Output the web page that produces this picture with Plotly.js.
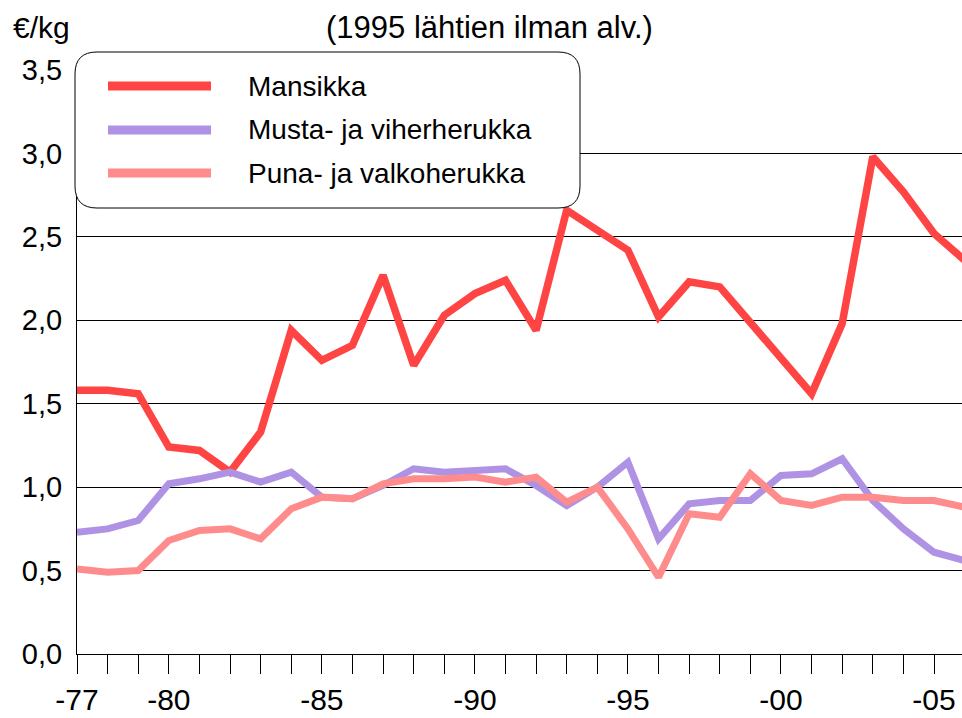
<!DOCTYPE html>
<html>
<head>
<meta charset="utf-8">
<script src="https://cdn.plot.ly/plotly-3.0.1.min.js"></script>
<style>
  html, body { margin: 0; padding: 0; background: #fff; }
  #chart { width: 962px; height: 718px; }
</style>
</head>
<body>
<div id="chart"></div>
<script>
// ---- data ----
const years = [1977,1978,1979,1980,1981,1982,1983,1984,1985,1986,1987,1988,1989,1990,1991,1992,1993,1994,1995,1996,1997,1998,1999,2000,2001,2002,2003,2004,2005,2006];
const mansikka = [1.58,1.58,1.56,1.24,1.22,1.09,1.33,1.94,1.76,1.85,2.27,1.73,2.03,2.16,2.24,1.94,2.66,2.54,2.42,2.02,2.23,2.20,1.99,1.78,1.56,1.98,2.98,2.77,2.52,2.36];
const mustaHerukka = [0.73,0.75,0.80,1.02,1.05,1.09,1.03,1.09,0.94,0.93,1.01,1.11,1.09,1.10,1.11,1.01,0.89,1.00,1.15,0.69,0.90,0.92,0.92,1.07,1.08,1.17,0.92,0.75,0.61,0.56];
const punaHerukka = [0.51,0.49,0.50,0.68,0.74,0.75,0.69,0.87,0.94,0.93,1.02,1.05,1.05,1.06,1.03,1.06,0.91,1.00,0.75,0.46,0.84,0.82,1.08,0.92,0.89,0.94,0.94,0.92,0.92,0.88];
const seriesNames = ["Mansikka", "Musta- ja viherherukka", "Puna- ja valkoherukka"];
const xTickLabels = {1977: "-77", 1980: "-80", 1985: "-85", 1990: "-90", 1995: "-95", 2000: "-00", 2005: "-05"};
const yTickVals = [0, 0.5, 1, 1.5, 2, 2.5, 3, 3.5];
const titleText = "(1995 lähtien ilman alv.)";
const unitText = "€/kg";

// ---- styling ----
const colors = ["#ff4444", "#b092e4", "#ff8c8c"];
const FONT = "Liberation Sans, Arial, sans-serif";
const W = 962, H = 718;
const L = 77, R = 0, T = 70, B = 64;
const PW = W - L - R, PH = H - T - B;
const px = x => (x - L) / PW;
const py = y => (H - B - y) / PH;

const seriesData = [mansikka, mustaHerukka, punaHerukka];
const traces = seriesData.map((vals, i) => ({
  type: "scatter",
  mode: "lines",
  x: years,
  y: vals,
  name: seriesNames[i],
  line: { color: colors[i], width: i === 0 ? 7.5 : 7 },
  showlegend: false,
  hoverinfo: "skip"
}));

// legend box (rounded) drawn manually
const bx0 = px(75), bx1 = px(580), by0 = py(52), by1 = py(208);
const rx = 22 / PW, ry = 22 / PH;
const boxPath = `M ${bx0 + rx},${by0} L ${bx1 - rx},${by0} Q ${bx1},${by0} ${bx1},${by0 - ry} ` +
  `L ${bx1},${by1 + ry} Q ${bx1},${by1} ${bx1 - rx},${by1} ` +
  `L ${bx0 + rx},${by1} Q ${bx0},${by1} ${bx0},${by1 + ry} ` +
  `L ${bx0},${by0 - ry} Q ${bx0},${by0} ${bx0 + rx},${by0} Z`;

const shapes = [{
  type: "path", xref: "paper", yref: "paper", path: boxPath,
  fillcolor: "#ffffff", line: { color: "#000000", width: 1 }, layer: "above"
}];
const legendY = [86, 130, 173];
const annotations = [];
seriesNames.forEach((n, i) => {
  shapes.push({
    type: "line", xref: "paper", yref: "paper",
    x0: px(108), x1: px(211), y0: py(legendY[i]), y1: py(legendY[i]),
    line: { color: colors[i], width: 9 }, layer: "above"
  });
  annotations.push({
    xref: "paper", yref: "paper", x: px(246), y: py(legendY[i]),
    xanchor: "left", yanchor: "middle", showarrow: false,
    text: n, font: { family: FONT, size: 28, color: "#000" }
  });
});
annotations.push({
  xref: "paper", yref: "paper", x: px(489), y: py(27),
  xanchor: "center", yanchor: "middle", showarrow: false,
  text: titleText, font: { family: FONT, size: 31, color: "#000" }
});
annotations.push({
  xref: "paper", yref: "paper", x: px(11), y: py(27),
  xanchor: "left", yanchor: "middle", showarrow: false,
  text: unitText, font: { family: FONT, size: 30, color: "#000" }
});

const layout = {
  width: W, height: H,
  margin: { l: L, r: R, t: T, b: B, pad: 0 },
  paper_bgcolor: "#ffffff",
  plot_bgcolor: "#ffffff",
  separators: ", ",
  font: { family: FONT, size: 28, color: "#000" },
  xaxis: {
    range: [1977, 1977 + (years[28] - 1977) * PW / (934 - 77)],
    tickmode: "array",
    tickvals: years,
    ticktext: years.map(y => xTickLabels[y] || ""),
    ticks: "outside", ticklen: 19, tickwidth: 1, tickcolor: "#000",
    showgrid: false, zeroline: false,
    showline: true, linecolor: "#000", linewidth: 1,
    ticklabelstandoff: 0,
    tickfont: { family: FONT, size: 30, color: "#000" },
    fixedrange: true
  },
  yaxis: {
    range: [0, 3.5],
    tickmode: "array",
    tickvals: yTickVals,
    tickformat: ".1f",
    ticks: "", showgrid: true, gridcolor: "#000", gridwidth: 1,
    zeroline: false,
    showline: true, linecolor: "#000", linewidth: 1,
    ticklabelstandoff: 8,
    tickfont: { family: FONT, size: 29, color: "#000" },
    fixedrange: true
  },
  shapes: shapes,
  annotations: annotations,
  showlegend: false
};

Plotly.newPlot("chart", traces, layout, { staticPlot: true, displayModeBar: false });
</script>
</body>
</html>
